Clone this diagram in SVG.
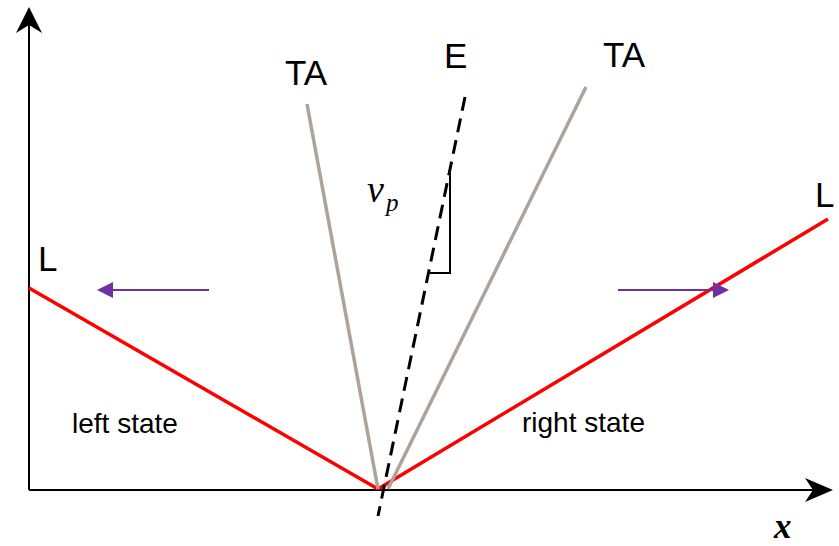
<svg xmlns="http://www.w3.org/2000/svg" width="839" height="546" viewBox="0 0 839 546">
<style>
.axis{stroke:#000;stroke-width:2;fill:none}
.red{stroke:#FF0000;stroke-width:3.5;fill:none}
.ta{stroke:#ADA39A;stroke-width:3.5;fill:none}
.dash{stroke:#000;stroke-width:3;fill:none;stroke-dasharray:14 8}
.pur{stroke:#7030A0;stroke-width:2;fill:none}
.lbl{font-family:"Liberation Sans",Arial,sans-serif;fill:#000}
.mth{font-family:"Liberation Serif","Times New Roman",serif;font-style:italic;fill:#000}
</style>
<rect width="839" height="546" fill="#fff"/>
<g id="axes">
<line class="axis" x1="29" y1="490" x2="29" y2="20"/>
<polygon points="29,7 42,33 29,25 16,33" fill="#000"/>
<line class="axis" x1="29" y1="490" x2="820" y2="490"/>
<polygon points="833,490 805,478 813,490 805,502" fill="#000"/>
<text class="mth" x="774" y="538" font-size="35" font-weight="bold">x</text>
</g>
<g id="connectors">
<line class="red" x1="29" y1="288" x2="378" y2="489"/>
<line class="red" x1="378" y1="489" x2="828" y2="219"/>
<line class="ta" x1="307" y1="104" x2="378" y2="489"/>
<line class="ta" x1="586" y1="87" x2="388" y2="489"/>
<line class="dash" x1="465" y1="97" x2="378" y2="516"/>
<polyline points="450,173 450,273 428,273" stroke="#000" stroke-width="2" fill="none"/>
<line class="pur" x1="209" y1="290" x2="110" y2="290"/>
<polygon points="97,290 113,282 113,298" fill="#7030A0"/>
<line class="pur" x1="618" y1="290" x2="715" y2="290"/>
<polygon points="729,290 713,282 713,298" fill="#7030A0"/>
</g>
<g id="label-TA-left"><text class="lbl" x="285" y="85" font-size="35">TA</text></g>
<g id="label-E"><text class="lbl" x="444" y="68" font-size="35">E</text></g>
<g id="label-TA-right"><text class="lbl" x="603" y="67" font-size="35">TA</text></g>
<g id="label-L-left"><text class="lbl" x="38" y="271" font-size="35">L</text></g>
<g id="label-L-right"><text class="lbl" x="815" y="207" font-size="35">L</text></g>
<g id="label-left-state"><text class="lbl" x="72" y="433" font-size="28">left state</text></g>
<g id="label-right-state"><text class="lbl" x="522" y="432" font-size="28">right state</text></g>
<g id="label-vp"><text class="mth" x="367" y="202" font-size="38">v</text><text class="mth" x="386" y="211" font-size="25">p</text></g>
</svg>
